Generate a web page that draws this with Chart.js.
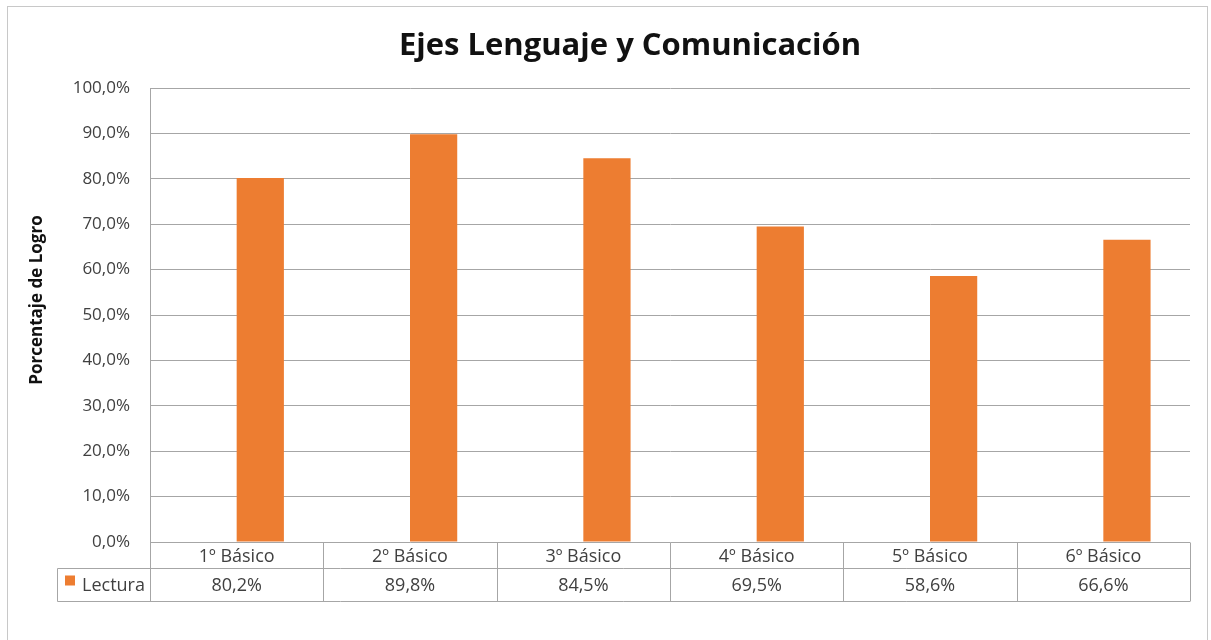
<!DOCTYPE html>
<html>
<head>
<meta charset="utf-8">
<script src="https://cdn.jsdelivr.net/npm/chart.js@4.4.1/dist/chart.umd.min.js"></script>
<style>
    html, body { margin: 0; padding: 0; background: #ffffff; }
    #wrap { width: 1211px; height: 640px; position: relative; }
</style>
</head>
<body>
<div id="wrap"><canvas id="barChart"></canvas></div>
<script>
// chart data
var categories = ['1º Básico', '2º Básico', '3º Básico', '4º Básico', '5º Básico', '6º Básico'];
var seriesName = 'Lectura';
var lectura = [80.2, 89.8, 84.5, 69.5, 58.6, 66.6];
// empty first series of the original sheet (keeps the bars right of centre)
var emptySeries = [null, null, null, null, null, null];
var yTicks = [0, 10, 20, 30, 40, 50, 60, 70, 80, 90, 100];
var chartTitle = 'Ejes Lenguaje y Comunicación';
var yTitle = 'Porcentaje de Logro';

var FONT = '"Open Sans", "Noto Sans", sans-serif';
var ORANGE = '#ED7D31';
var LINE = '#a6a6a6';
var TEXT = '#404040';

function pct(v) {
    return v.toFixed(1).replace('.', ',') + '%';
}

// frame, titles and the data table under the x axis
var dataTable = {
    id: 'dataTable',
    beforeDraw: function (chart) {
        var c = chart.ctx;
        c.save();
        c.strokeStyle = '#c8c8c8';
        c.lineWidth = 1;
        c.strokeRect(7.5, 6.5, 1200, 660);

        c.fillStyle = '#111111';
        c.textAlign = 'center';
        c.textBaseline = 'alphabetic';
        c.font = 'bold 31px ' + FONT;
        c.fillText(chartTitle, 630, 55);

        // rotated y title
        c.translate(37, 300);
        c.rotate(-Math.PI / 2);
        c.textBaseline = 'middle';
        c.font = 'bold 17px ' + FONT;
        c.fillText(yTitle, 0, 0);
        c.restore();
    },
    afterDraw: function (chart) {
        var c = chart.ctx;
        var x = chart.scales.x;
        var area = chart.chartArea;
        var colW = (x.right - x.left) / categories.length;
        var top = Math.round(area.bottom) + 0.5;
        var mid = top + 26;
        var bot = top + 59;
        var legLeft = 57.5;

        c.save();
        c.strokeStyle = LINE;
        c.lineWidth = 1;
        c.beginPath();
        c.moveTo(legLeft, mid); c.lineTo(x.right, mid);
        c.moveTo(legLeft, bot); c.lineTo(x.right, bot);
        c.moveTo(legLeft, mid); c.lineTo(legLeft, bot);
        for (var i = 0; i <= categories.length; i++) {
            var xx = Math.round(x.left + i * colW) + 0.5;
            c.moveTo(xx, top); c.lineTo(xx, bot);
        }
        c.stroke();

        c.fillStyle = TEXT;
        c.font = '18px ' + FONT;
        c.textAlign = 'center';
        c.textBaseline = 'middle';
        for (var j = 0; j < categories.length; j++) {
            var cx = x.left + (j + 0.5) * colW;
            c.fillText(categories[j], cx, top + 14);
            c.fillText(pct(lectura[j]), cx, mid + 17);
        }

        // legend key
        c.fillStyle = ORANGE;
        c.fillRect(65, mid + 7, 10, 10);
        c.fillStyle = TEXT;
        c.textAlign = 'left';
        c.fillText(seriesName, 82, mid + 17);
        c.restore();
    }
};

var ctx = document.getElementById('barChart').getContext('2d');
var chart = new Chart(ctx, {
    type: 'bar',
    data: {
        labels: categories,
        datasets: [
            {
                label: '',
                data: emptySeries,
                backgroundColor: '#ffffff'
            },
            {
                label: seriesName,
                data: lectura,
                backgroundColor: ORANGE
            }
        ]
    },
    options: {
        responsive: true,
        maintainAspectRatio: false,
        animation: false,
        categoryPercentage: 0.545,
        barPercentage: 1,
        layout: {
            padding: { left: 0, right: 21, top: 88, bottom: 40 }
        },
        plugins: {
            legend: { display: false },
            tooltip: { enabled: false },
            title: { display: false }
        },
        scales: {
            x: {
                grid: { display: false },
                border: { display: false },
                ticks: { display: false },
                afterFit: function (scale) { scale.height = 58; }
            },
            y: {
                min: 0,
                max: 100,
                afterBuildTicks: function (scale) {
                    scale.ticks = yTicks.map(function (v) { return { value: v }; });
                },
                afterFit: function (scale) { scale.width = 150; },
                grid: { color: LINE, drawTicks: false },
                border: { display: true, color: LINE },
                ticks: {
                    padding: 20,
                    color: TEXT,
                    font: { family: FONT, size: 17 },
                    callback: function (value) { return pct(value); }
                }
            }
        }
    },
    plugins: [dataTable]
});
</script>
</body>
</html>
